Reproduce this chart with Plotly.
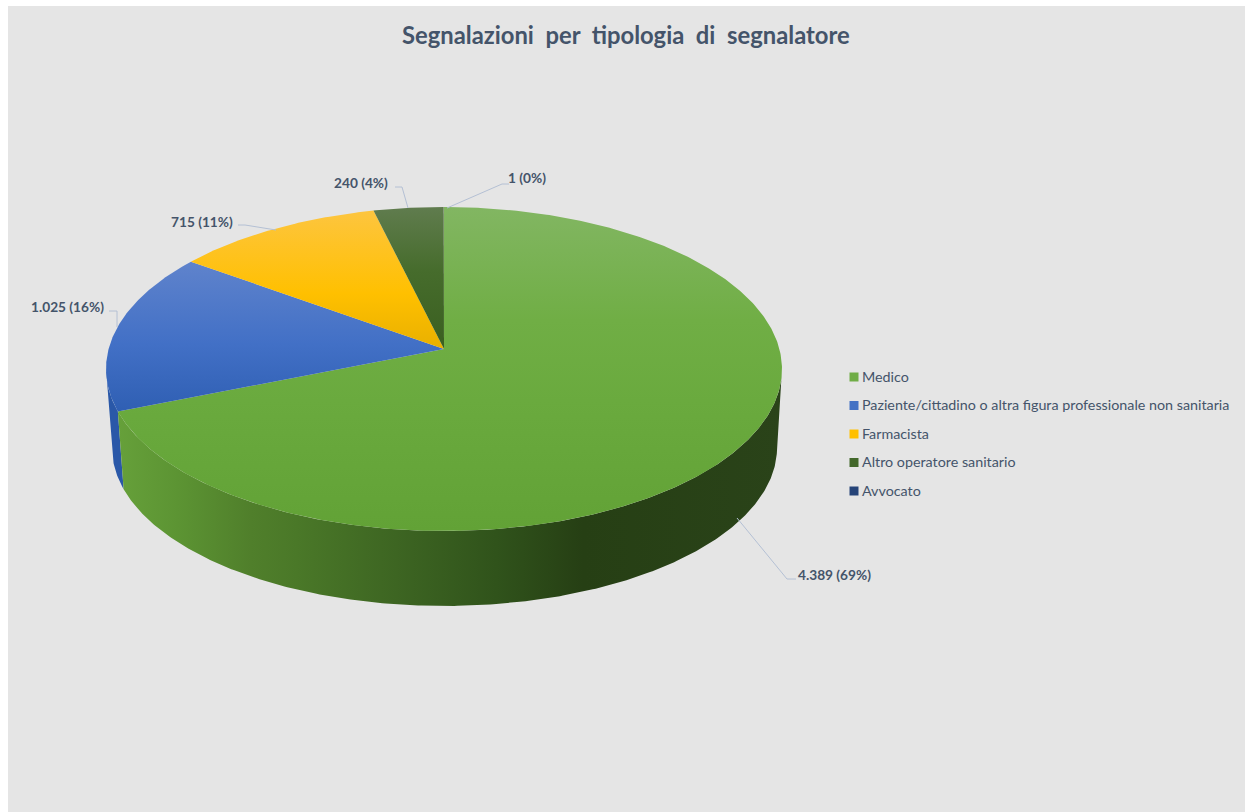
import math
import plotly.graph_objects as go

categories = ["Medico", "Paziente/cittadino o altra figura professionale non sanitaria",
              "Farmacista", "Altro operatore sanitario", "Avvocato"]
values = [4389, 1025, 715, 240, 1]
data_labels = ["4.389 (69%)", "1.025 (16%)", "715 (11%)", "240 (4%)", "1 (0%)"]
title_text = "Segnalazioni  per  tipologia  di  segnalatore"

FONT = "Lato"
TEXT = "#44546a"
LEAD = "#b4c0d4"
BG = "#e5e5e5"

# projection of the pie disc (slight perspective, as in the original 3-D chart)
CX, APEX_Y, A, B, P = 444, 349, 335.4, 159.5, 0.1235
BOT_CX, BOT_Y, BOT_A, BOT_B = 444.5, 428, 330, 156
SILHOUETTE_R, SILHOUETTE_L = 97, 263


def rim(deg):
    t = math.radians(deg)
    u, v = math.sin(t), math.cos(t)
    d = 1 + P * v
    return CX + A * u / d, APEX_Y - B * v / d


def bot(deg):
    t = math.radians(deg)
    u, v = math.sin(t), math.cos(t)
    d = 1 + P * v
    return BOT_CX + BOT_A * u / d, BOT_Y - BOT_B * v / d


def frange(a, b, step=1.0):
    n = max(2, int(abs(b - a) / step) + 1)
    return [a + (b - a) * i / (n - 1) for i in range(n)]


top_grad = [
    [(0, "#82b662"), (0.35, "#70ae45"), (0.6, "#6aaa3e"), (1, "#62a236")],
    [(0, "#5f83cc"), (0.55, "#4270c6"), (1, "#2f5fb3")],
    [(0, "#fdc53f"), (0.6, "#ffc000"), (1, "#e9b000")],
    [(0, "#607c4e"), (0.45, "#466c2c"), (1, "#3a5f20")],
    [(0, "#2f4f8f"), (1, "#264478")],
]
legend_colors = ["#70ad47", "#4472c4", "#ffc000", "#43682b", "#264478"]
side_stops = {
    0: (118, 782, [(0, "#66a03a"), (0.09, "#5c9433"), (0.2, "#507f2b"), (0.27, "#4a7828"),
                   (0.42, "#3d6522"), (0.57, "#30531b"), (0.7, "#263f14"), (1, "#2a4319")]),
    1: (100, 130, [(0, "#2a58a8"), (1, "#2a58a8")]),
}

total = sum(values)
bounds = [0]
for v in values:
    bounds.append(bounds[-1] + 360 * v / total)

fig = go.Figure()

# side walls: back to front
side_ranges = {1: (bounds[1], SILHOUETTE_L), 0: (SILHOUETTE_R, bounds[1])}
for idx in [1, 0]:
    a0, a1 = side_ranges[idx]
    angs = frange(a0, a1, 0.5)
    pts = [rim(d) for d in angs] + [bot(d) for d in reversed(angs)]
    pts.append(pts[0])
    start, stop, stops = side_stops[idx]
    fig.add_trace(go.Scatter(
        x=[p[0] for p in pts], y=[p[1] for p in pts], mode="lines", line=dict(width=0), fill="toself",
        hoverinfo="skip",
        fillgradient=dict(type="horizontal", start=start, stop=stop, colorscale=stops),
        showlegend=False))

# top faces
for i in range(len(values)):
    a0, a1 = bounds[i], bounds[i + 1]
    pts = [rim(d) for d in frange(a0, a1, 0.5)]
    xs = [CX] + [p[0] for p in pts] + [CX]
    ys = [APEX_Y] + [p[1] for p in pts] + [APEX_Y]
    fig.add_trace(go.Scatter(
        x=xs, y=ys, mode="lines", line=dict(width=0), fill="toself",
        fillgradient=dict(type="vertical", start=min(ys), stop=max(ys), colorscale=top_grad[i]),
        name=categories[i], text=data_labels[i], hoverinfo="name+text", showlegend=False))

# legend
leg_y = [376, 404.5, 433, 461.5, 490]
fig.add_trace(go.Scatter(
    x=[854] * len(categories), y=[y + 1 for y in leg_y], mode="markers",
    marker=dict(symbol="square", size=9, color=legend_colors, line=dict(width=0)),
    hoverinfo="skip", showlegend=False))
annotations = [dict(x=860, y=y, text=c, xanchor="left", yanchor="middle", showarrow=False,
                    font=dict(family=FONT, size=14.3, color=TEXT))
               for c, y in zip(categories, leg_y)]

# data labels
label_pos = [(796, 574), (29, 306), (169, 221), (332, 182), (506, 177)]
for (x, y), t in zip(label_pos, data_labels):
    annotations.append(dict(x=x, y=y, text="<b>%s</b>" % t, xanchor="left", yanchor="middle",
                            showarrow=False, font=dict(family=FONT, size=13.7, color=TEXT)))
annotations.append(dict(x=626, y=35, text="<b>%s</b>" % title_text, xanchor="center", yanchor="middle",
                        showarrow=False, font=dict(family=FONT, size=23.8, color=TEXT)))

leaders = ["M737 518 L787 579 L796 579", "M117 327 L117 311 L109 311", "M276 230 L245 225 L238 225",
           "M408 208 L402 187 L395 187", "M447 208 L502 184 L509 184"]
shapes = [dict(type="path", path=p, xref="x", yref="y", line=dict(color=LEAD, width=1), layer="above")
          for p in leaders]

fig.update_layout(
    width=1245, height=812, margin=dict(l=8, r=0, t=6, b=0), autosize=False,
    paper_bgcolor="white", plot_bgcolor=BG, showlegend=False,
    xaxis=dict(range=[8, 1245], visible=False, fixedrange=True),
    yaxis=dict(range=[812, 6], visible=False, fixedrange=True),
    annotations=annotations, shapes=shapes,
)
fig.write_html("out.html", config={"displayModeBar": False},
               post_script="document.body.style.margin='0';document.body.style.overflow='hidden';")
